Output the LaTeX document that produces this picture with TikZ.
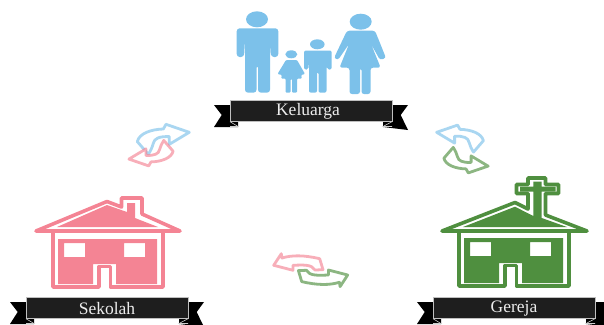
\documentclass[tikz,border=0pt]{standalone}
\usepackage{fontspec}
\setmainfont{Liberation Serif}
\definecolor{pinkhouse}{HTML}{F48494}
\definecolor{greenhouse}{HTML}{4F8F3F}
\definecolor{bluefamily}{HTML}{7CC1EA}
\definecolor{ribbonblack}{HTML}{1E1E1E}
\tikzset{
  outline/.style={line width=3.6pt,line join=round,line cap=round},
  banner/.style={fill=ribbonblack,draw=black!25,line width=0.8pt},
  bannertail/.style={fill=black,draw=none},
  bannertext/.style={text=white!93!black,font=\fontsize{17.5}{19}\selectfont},
  swoosh/.style={fill=white,line width=2.8pt,line join=round,draw opacity=0.65},
}
% ribbon with a label, at its top left corner
\newcommand{\ribbon}[5]{
  \begin{scope}[shift={(#2,#3)}]
    \fill[bannertail] (-16,5) -- (-8.3,15) -- (-16,27) -- (8,27) -- (8,5) -- cycle;
    \fill[bannertail] (178,5) -- (170.7,15) -- (178,30) -- (153,27) -- (153,5) -- cycle;
    \draw[white!80!black,line width=0.6pt] (0,21.7) -- (8,26.5) -- (0,26.5);
    \draw[white!80!black,line width=0.6pt] (162,21.7) -- (153,26.5) -- (162,26.5);
    \draw[banner] (0,0) rectangle (162,21);
    \node[bannertext] (#1) at (#5,11.5) {#4};
  \end{scope}
}
% walls of a house with door and windows
\newcommand{\walls}[1]{
  \fill[#1,even odd rule] (58,239) -- (157,239) -- (157,284) -- (116,284) -- (116,264) -- (93,264) -- (93,284) -- (58,284) -- cycle
    (64,243) rectangle (85,257) (124,243) rectangle (145,257);
  \draw[#1,outline] (53,233) -- (53,287) -- (99,287) -- (99,266.5) -- (110.5,266.5) -- (110.5,287) -- (163,287) -- (163,233);
}
% hand drawn arrows, hollow
\newcommand{\swooshpath}{
  (-26,3.3) .. controls (-24,-5) and (-12,-9) .. (0,-9.3) -- (2.7,-14) -- (26,-6) -- (6,6) -- (6,-1.7)
  .. controls (-4,-2) and (-9,0) .. (-10,5) .. controls (-11,9) and (-13,13) .. (-15,16) -- cycle
}
\newcommand{\swooshflat}{
  (-25,-7.7) -- (-17,-8) .. controls (-14,-2) and (-4,-3) .. (5,-3.3) -- (5,-8.3) -- (24.3,-3.3) -- (16.7,8.3)
  -- (16,4) .. controls (6,7) and (-6,7) .. (-21.7,3.3) -- cycle
}
\begin{document}
\begin{tikzpicture}[x=1pt,y=-1pt]
  \useasboundingbox (0,0) rectangle (604,324);
  % father
  \fill[bluefamily] (257,19.3) ellipse (11 and 8);
  \fill[bluefamily,rounded corners=3pt] (236.7,28.3) -- (278.3,28.3) -- (278.3,57) -- (271,57) -- (270,40) -- (270,92.7) -- (258,92.7) -- (258,65) -- (256.5,65) -- (256.5,92.7) -- (245,92.7) -- (245,40) -- (244,57) -- (236.7,57) -- cycle;
  % girl
  \fill[bluefamily] (291.3,54.3) ellipse (6 and 4);
  \fill[bluefamily,rounded corners=1pt] (286,60) -- (297,60) -- (305,74) -- (301,75) -- (302,78.5) -- (297,78.5) -- (297,92.7) -- (292,92.7) -- (292,79) -- (290.5,79) -- (290.5,92.7) -- (285.5,92.7) -- (285.5,78.5) -- (281,78.5) -- (282,75) -- (277.5,74) -- cycle;
  % boy
  \fill[bluefamily] (317.3,44.3) ellipse (7.3 and 5);
  \fill[bluefamily,rounded corners=2pt] (304,50.5) -- (331.7,50.5) -- (331.7,69.5) -- (327,69.5) -- (326.5,60) -- (326.5,92.7) -- (318.5,92.7) -- (318.5,72) -- (317,72) -- (317,92.7) -- (309,92.7) -- (309,60) -- (308.5,69.5) -- (304,69.5) -- cycle;
  % mother
  \fill[bluefamily] (360.7,21.7) ellipse (11 and 8);
  \fill[bluefamily,rounded corners=2.5pt] (347,30.7) -- (375,30.7) -- (386,58) -- (380,60) -- (371,44) -- (380.7,67.7) -- (370.5,67.7) -- (370.5,94) -- (361.5,94) -- (361.5,68) -- (360,68) -- (360,94) -- (349.5,94) -- (349.5,67.7) -- (339.5,67.7) -- (349,44) -- (338,60) -- (334,58) -- cycle;
  \ribbon{keluarga}{230}{100}{Keluarga}{78}
  % school
  \walls{pinkhouse}
  \draw[pinkhouse,outline] (36,231) -- (107,201.5) -- (121.5,207) -- (121.5,198) -- (142,198) -- (142,214) -- (180,231) -- cycle;
  \fill[pinkhouse] (57,227) -- (107,205) -- (127,212) -- (127,203) -- (135,203) -- (135,218) -- (158,227) -- cycle;
  \ribbon{sekolah}{26}{297}{Sekolah}{81}
  % church
  \begin{scope}[shift={(406,-1)}]
    \walls{greenhouse}
  \end{scope}
  \draw[greenhouse,outline] (442,231) -- (515,202.5) -- (528,209) -- (528,193.5) -- (516.5,193.5) -- (516.5,184.5) -- (528,184.5) -- (528,178) -- (545.5,178) -- (545.5,184.5) -- (558.5,184.5) -- (558.5,193.5) -- (545.5,193.5) -- (545.5,215) -- (587,231) -- cycle;
  \fill[greenhouse] (463,227) -- (515,206.7) -- (533.3,216) -- (533.3,191.7) -- (520,191.7) -- (520,186.7) -- (533.3,186.7) -- (533.3,181.7) -- (541.7,181.7) -- (541.7,186.7) -- (555.7,186.7) -- (555.7,191.7) -- (541.7,191.7) -- (541.7,218) -- (567,227) -- cycle;
  \ribbon{gereja}{433}{297}{Gereja}{81}
  % arrows
  \draw[swoosh,draw=bluefamily,shift={(163.3,138.3)}] \swooshpath;
  \draw[swoosh,draw=pinkhouse,shift={(151,154)},rotate=180,scale=0.85] \swooshpath;
  \draw[swoosh,draw=bluefamily,shift={(460,137.7)},xscale=-0.9,yscale=0.9] \swooshpath;
  \draw[swoosh,draw=greenhouse,shift={(466,161)},xscale=0.85,yscale=-0.85] \swooshpath;
  \draw[swoosh,draw=pinkhouse,shift={(298,262)},rotate=180] \swooshflat;
  \draw[swoosh,draw=greenhouse,shift={(323.4,278.3)}] \swooshflat;
\end{tikzpicture}
\end{document}
